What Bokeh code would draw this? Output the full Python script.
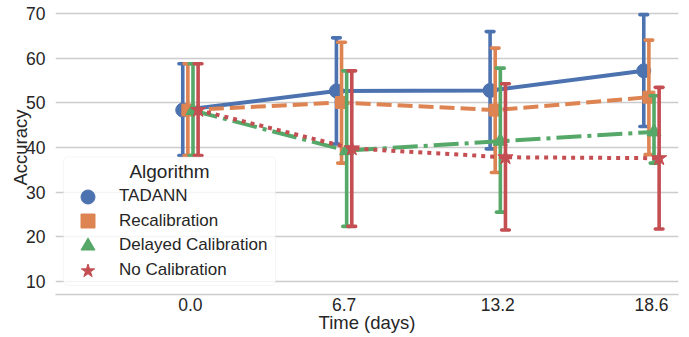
from bokeh.plotting import figure
from bokeh.models import (FixedTicker, Legend, LegendItem, ColumnDataSource, Range1d,
                          BoxAnnotation, Label)
from bokeh.embed import file_html
from bokeh.resources import INLINE

times = ["0.0", "6.7", "13.2", "18.6"]
algorithms = ["TADANN", "Recalibration", "Delayed Calibration", "No Calibration"]

tadann_mean = [48.4, 52.7, 52.8, 57.2]
tadann_low = [38.2, 40.8, 39.7, 44.7]
tadann_high = [58.8, 64.6, 66.0, 69.8]

recal_mean = [48.4, 50.1, 48.4, 51.3]
recal_low = [38.2, 36.5, 34.4, 38.4]
recal_high = [58.8, 63.6, 62.3, 64.1]

delayed_mean = [48.3, 39.3, 41.4, 43.5]
delayed_low = [38.2, 22.3, 25.5, 36.5]
delayed_high = [58.8, 57.2, 57.8, 51.6]

nocal_mean = [48.4, 39.8, 37.8, 37.6]
nocal_low = [38.2, 22.3, 21.5, 21.7]
nocal_high = [58.8, 57.2, 54.3, 53.5]

y_ticks = [10, 20, 30, 40, 50, 60, 70]
legend_title = "Algorithm"
x_label = "Time (days)"
y_label = "Accuracy"

series = [
    (tadann_mean, tadann_low, tadann_high),
    (recal_mean, recal_low, recal_high),
    (delayed_mean, delayed_low, delayed_high),
    (nocal_mean, nocal_low, nocal_high),
]
colors = ["#4C72B0", "#DD8452", "#55A868", "#C44E52"]
markers = ["circle", "square", "triangle", "star"]
msizes = [14, 12, 14, 16]
dashes = ["solid", "15 6", "25 6 4 6", "4 5"]
dodge = 0.1
capsize = 0.05
FONT = "Liberation Sans"
TXT = "#262626"

p = figure(width=689, height=337, output_backend="svg", toolbar_location=None,
           x_range=Range1d(-0.878, 3.176), y_range=Range1d(7.02, 72.98),
           min_border_left=55, min_border_right=11, min_border_top=0, min_border_bottom=43)
p.outline_line_color = None
p.background_fill_color = "white"
p.border_fill_color = "white"

n = len(series)
offsets = [-dodge / 2 + dodge * j / (n - 1) for j in range(n)]

renderers = []
for j, (mean, lo, hi) in enumerate(series):
    xs = [i + offsets[j] for i in range(len(times))]
    src = ColumnDataSource(dict(x=xs, m=mean, lo=lo, hi=hi,
                                xl=[x - capsize / 2 for x in xs],
                                xr=[x + capsize / 2 for x in xs]))
    p.line("x", "m", source=src, line_color=colors[j], line_width=4, line_dash=dashes[j])
    p.segment("x", "lo", "x", "hi", source=src, line_color=colors[j], line_width=3.6, line_cap="butt")
    p.segment("xl", "lo", "xr", "lo", source=src, line_color=colors[j], line_width=3.6, line_cap="round")
    p.segment("xl", "hi", "xr", "hi", source=src, line_color=colors[j], line_width=3.6, line_cap="round")
    r = p.scatter("x", "m", source=src, marker=markers[j], size=msizes[j],
                  fill_color=colors[j], line_color=colors[j], line_width=1)
    renderers.append(r)

p.xaxis.ticker = FixedTicker(ticks=list(range(len(times))))
p.xaxis.major_label_overrides = {i: t for i, t in enumerate(times)}
p.yaxis.ticker = FixedTicker(ticks=y_ticks)

for ax in (p.xaxis, p.yaxis):
    ax.major_tick_line_color = None
    ax.minor_tick_line_color = None
    ax.major_label_text_font = FONT
    ax.major_label_text_font_size = "17.5px"
    ax.major_label_text_color = TXT
    ax.axis_label_text_font = FONT
    ax.axis_label_text_font_size = "18.5px"
    ax.axis_label_text_font_style = "normal"
    ax.axis_label_text_color = TXT

p.xaxis.axis_label = x_label
p.yaxis.axis_label = y_label
p.xaxis.axis_line_color = "#cccccc"
p.xaxis.axis_line_width = 1.3
p.yaxis.axis_line_color = None
p.xaxis.major_label_standoff = -3
p.xaxis.axis_label_standoff = -2
p.yaxis.major_label_standoff = 4
p.yaxis.axis_label_standoff = -8

p.xgrid.grid_line_color = None
p.ygrid.grid_line_color = "#cccccc"
p.ygrid.grid_line_width = 1.3

# legend frame (screen units, relative to the plot frame's bottom-left)
box = BoxAnnotation(left=8, right=220, bottom=9, top=137.6,
                    left_units="screen", right_units="screen",
                    bottom_units="screen", top_units="screen",
                    fill_color="white", fill_alpha=0.8,
                    line_color="#e2e2e2", line_width=1)
try:
    box.border_radius = 4
except Exception:
    pass
p.add_layout(box)

row_bottoms = [80.5, 55.8, 31.2, 6.5]
for j, r in enumerate(renderers):
    lg = Legend(items=[LegendItem(label=algorithms[j], renderers=[r])],
                location=(8, row_bottoms[j]), margin=0, padding=0, spacing=0,
                glyph_width=49, glyph_height=35, label_height=35, label_standoff=7)
    lg.label_text_font = FONT
    lg.label_text_font_size = "17px"
    lg.label_text_color = TXT
    lg.border_line_color = None
    lg.background_fill_alpha = 0
    p.add_layout(lg)

title = Label(x=114, y=123, x_units="screen", y_units="screen", text=legend_title,
              text_align="center", text_baseline="middle",
              text_font=FONT, text_font_size="19px", text_color=TXT)
p.add_layout(title)

open("out.html", "w").write(file_html(p, INLINE))
